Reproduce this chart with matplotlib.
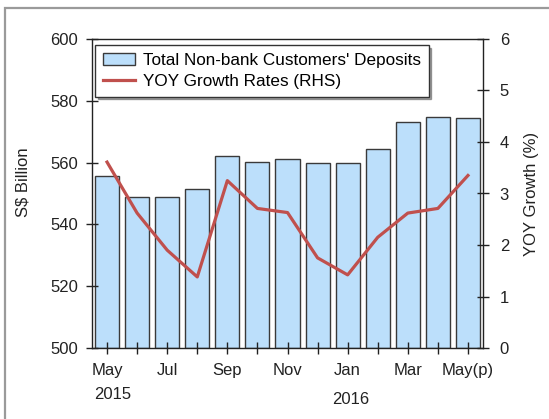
import matplotlib.pyplot as plt
from matplotlib.patches import Rectangle

plt.rcParams["font.family"] = ["Liberation Sans", "DejaVu Sans"]

months = ["May", "Jun", "Jul", "Aug", "Sep", "Oct", "Nov", "Dec",
          "Jan", "Feb", "Mar", "Apr", "May(p)"]
deposits = [555.8, 548.8, 548.8, 551.3, 562.2, 560.3, 561.3, 559.8,
            559.8, 564.4, 573.2, 574.6, 574.5]
yoy_growth = [3.61, 2.62, 1.90, 1.38, 3.25, 2.71, 2.63, 1.75,
              1.42, 2.15, 2.62, 2.71, 3.35]
years = ["2015", "2016"]

BAR_COLOR = "#BCDFFB"
LINE_COLOR = "#C0504D"

fig = plt.figure(figsize=(5.49, 4.19), dpi=100)
# outer gray frame (clipped on the right and bottom like the source)
fig.patches.append(Rectangle((5 / 549, -0.05), 1.1, 1 - 8 / 419 + 0.05,
                             transform=fig.transFigure, fill=False,
                             edgecolor="#9a9a9a", linewidth=1.6))

ax = fig.add_axes([92 / 549, 1 - 348 / 419, (483 - 92) / 549, (348 - 39) / 419])
x = list(range(len(months)))
bars = ax.bar(x, [d - 500 for d in deposits], bottom=500, width=0.8,
              color=BAR_COLOR, edgecolor="#3a3a3a", linewidth=1.0,
              label="Total Non-bank Customers' Deposits")
ax.set_xlim(-0.5, len(months) - 0.5)
ax.set_ylim(500, 600)
ax.set_yticks(range(500, 601, 20))
ax.set_xticks(x, [m if i % 2 == 0 else "" for i, m in enumerate(months)])
ax.tick_params(axis="both", direction="inout", length=8, width=1.0,
               labelsize=12, colors="#222222")
ax.tick_params(axis="x", pad=7)
ax.tick_params(axis="y", pad=6)
ax.set_ylabel("S$ Billion", fontsize=12, color="#222222")
ax.yaxis.set_label_coords(-0.157, 0.537)
for spine in ax.spines.values():
    spine.set_color("#222222")
    spine.set_linewidth(1.0)

ax.text(0.19, -0.152, years[0], transform=ax.get_xaxis_transform(),
        ha="center", va="center", fontsize=12, color="#222222")
ax.text(8.1, -0.168, years[1], transform=ax.get_xaxis_transform(),
        ha="center", va="center", fontsize=12, color="#222222")

ax2 = ax.twinx()
line, = ax2.plot(x, yoy_growth, color=LINE_COLOR, linewidth=2.3,
                 label="YOY Growth Rates (RHS)")
ax2.set_ylim(0, 6)
ax2.set_yticks(range(0, 7))
ax2.tick_params(axis="y", direction="inout", length=8, width=1.0,
                labelsize=12, colors="#222222", pad=8)
ax2.set_ylabel("YOY Growth (%)", fontsize=12, color="#222222")
ax2.yaxis.set_label_coords(1.105, 0.5)
for spine in ax2.spines.values():
    spine.set_visible(False)

leg = ax2.legend([bars, line], [bars.get_label(), line.get_label()],
                 loc="upper left", bbox_to_anchor=(0.008, 0.98),
                 borderaxespad=0, fontsize=12.3, frameon=True, shadow=True,
                 fancybox=False, handlelength=1.9, handletextpad=0.45,
                 labelspacing=0.35, borderpad=0.45)
leg.get_frame().set_edgecolor("#333333")
leg.get_frame().set_linewidth(1.0)

fig.savefig("out.png", dpi=100)
